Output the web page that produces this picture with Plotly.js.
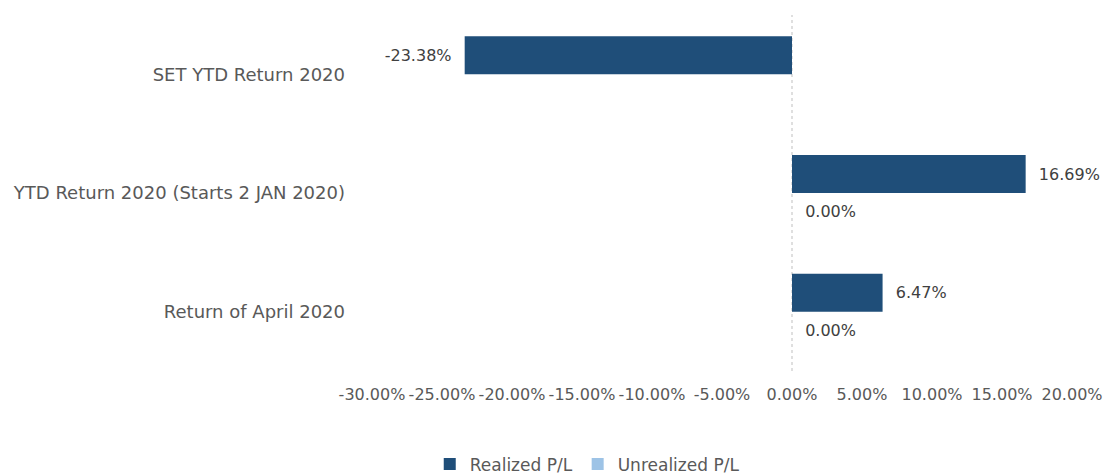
<!DOCTYPE html>
<html>
<head>
<meta charset="utf-8">
<script src="https://cdn.plot.ly/plotly-3.0.1.min.js"></script>
<style>html,body{margin:0;padding:0;background:#fff;}#chart{width:1108px;height:474px;}</style>
</head>
<body>
<div id="chart"></div>
<script>
const categories = ["SET YTD Return 2020", "YTD Return 2020 (Starts 2 JAN 2020)", "Return of April 2020"];
const realized = [-0.2338, 0.1669, 0.0647];
const unrealized = [null, 0.0, 0.0];
const seriesNames = ["Realized P/L", "Unrealized P/L"];
const tickValues = [-0.30, -0.25, -0.20, -0.15, -0.10, -0.05, 0, 0.05, 0.10, 0.15, 0.20];
const tickLabels = ["-30.00%", "-25.00%", "-20.00%", "-15.00%", "-10.00%", "-5.00%", "0.00%", "5.00%", "10.00%", "15.00%", "20.00%"];

const font = "DejaVu Sans, Liberation Sans, Arial, sans-serif";
const pad = "\u00a0\u00a0";
function labels(arr) {
  return arr.map(v => {
    if (v === null) return "";
    const s = (v * 100).toFixed(2) + "%";
    return v < 0 ? s + pad : pad + s;
  });
}

const traces = [
  {
    type: "bar", orientation: "h", name: seriesNames[0],
    y: categories, x: realized,
    marker: { color: "#1F4E79" },
    text: labels(realized), textposition: "outside", cliponaxis: false,
    textfont: { family: font, size: 16, color: "#404040" },
    hoverinfo: "skip"
  },
  {
    type: "bar", orientation: "h", name: seriesNames[1],
    y: categories, x: unrealized,
    marker: { color: "#9DC3E6" },
    text: labels(unrealized), textposition: "outside", cliponaxis: false,
    textfont: { family: font, size: 16, color: "#404040" },
    hoverinfo: "skip"
  }
];

const layout = {
  width: 1108, height: 474,
  margin: { l: 372, r: 36, t: 15, b: 103 },
  paper_bgcolor: "#fff", plot_bgcolor: "#fff",
  barmode: "group", bargap: 0.36, bargroupgap: 0,
  showlegend: true,
  font: { family: font, color: "#595959" },
  xaxis: {
    range: [-0.30, 0.20],
    tickvals: tickValues, ticktext: tickLabels,
    showgrid: false, zeroline: false, showline: false, ticks: "",
    tickfont: { family: font, size: 16, color: "#595959" },
    ticklabelstandoff: 12
  },
  yaxis: {
    type: "category", autorange: "reversed",
    showgrid: false, zeroline: false, showline: false, ticks: "",
    tickfont: { family: font, size: 18, color: "#595959" },
    ticklabelstandoff: 26
  },
  shapes: [{
    type: "line", xref: "x", yref: "paper", x0: 0, x1: 0, y0: 0, y1: 1,
    line: { color: "#BFBFBF", width: 1, dash: "dot" }, layer: "below"
  }],
  legend: {
    orientation: "h", xref: "container", yref: "container",
    x: 0.53, xanchor: "center", y: 0.058, yanchor: "top",
    font: { family: font, size: 17, color: "#595959" },
    itemwidth: 30, traceorder: "normal"
  }
};

Plotly.newPlot("chart", traces, layout, { staticPlot: true, displayModeBar: false });
</script>
</body>
</html>
